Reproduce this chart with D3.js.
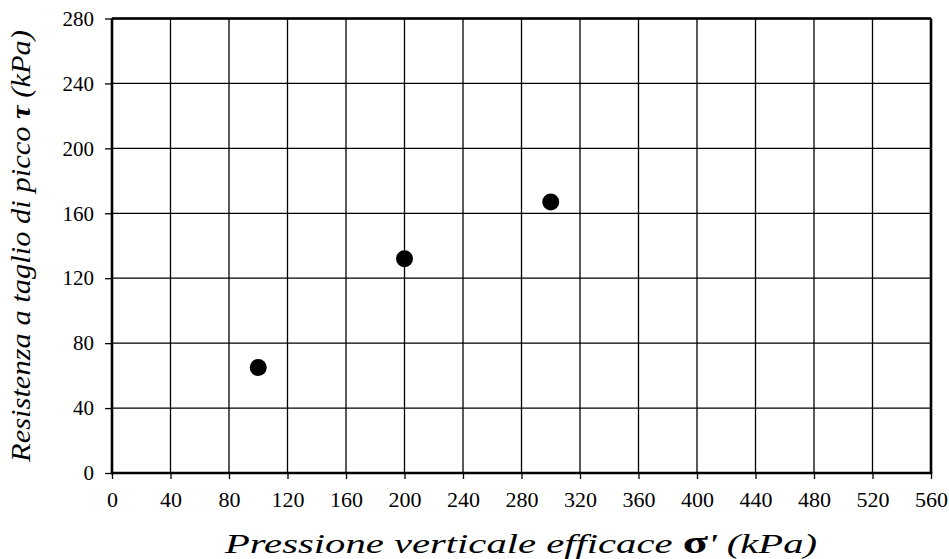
<!DOCTYPE html>
<html><head><meta charset="utf-8">
<script src="https://cdn.jsdelivr.net/npm/d3@7"></script>
<style>body{margin:0;background:#fff}svg{display:block}</style>
</head><body>
<svg id="c" width="949" height="559"></svg>
<script>
const xTicks = [0,40,80,120,160,200,240,280,320,360,400,440,480,520,560];
const yTicks = [0,40,80,120,160,200,240,280];
const sigma = [100,200,300];
const tau = [65,132,167];

const FONT = `"Liberation Serif"`;
const svg = d3.select("#c");
const L=112, R=931, T=18.5, B=473;
const x = d3.scaleLinear().domain([0,560]).range([L,R]);
const y = d3.scaleLinear().domain([0,280]).range([B,T]);

// grid
svg.append("g").selectAll("line").data(xTicks.slice(1)).join("line")
  .attr("x1",d=>x(d)).attr("x2",d=>x(d)).attr("y1",T).attr("y2",B)
  .attr("stroke","#000").attr("stroke-width",1.3);
svg.append("g").selectAll("line").data(yTicks.slice(1)).join("line")
  .attr("y1",d=>y(d)).attr("y2",d=>y(d)).attr("x1",L).attr("x2",R)
  .attr("stroke","#000").attr("stroke-width",1.3);

// axes
const xa = svg.append("g").attr("transform",`translate(0,${B})`)
  .call(d3.axisBottom(x).tickValues(xTicks).tickSize(6).tickPadding(12).tickSizeOuter(0));
const ya = svg.append("g").attr("transform",`translate(${L},0)`)
  .call(d3.axisLeft(y).tickValues(yTicks).tickSize(7).tickPadding(11).tickSizeOuter(0));
[xa,ya].forEach(a=>{
  a.attr("font-family",null).attr("font-size",null);
  a.select(".domain").attr("stroke","#000").attr("stroke-width",2.6);
  a.selectAll(".tick line").attr("stroke","#000").attr("stroke-width",1.3);
  a.selectAll(".tick text").style("font-family",FONT).attr("fill","#000");
});
xa.selectAll(".tick text").style("font-size","22px");
ya.selectAll(".tick text").style("font-size","21px");
xa.select(".domain").attr("d",`M${L-1.3},0H${R+1.3}`);
ya.select(".domain").attr("d",`M0,${B+1.3}V${T}`);
svg.append("line").attr("x1",R).attr("x2",R).attr("y1",T).attr("y2",B).attr("stroke","#000").attr("stroke-width",2.6);
svg.append("line").attr("x1",L).attr("x2",R).attr("y1",T).attr("y2",T).attr("stroke","#000").attr("stroke-width",2.6);

// points
svg.append("g").selectAll("circle").data(sigma.map((s,i)=>[s,tau[i]])).join("circle")
  .attr("cx",d=>x(d[0])).attr("cy",d=>y(d[1])).attr("r",8.5).attr("fill","#000");

// titles
const xt = svg.append("text").attr("x",521).attr("y",553).attr("text-anchor","middle")
  .attr("textLength",592).attr("lengthAdjust","spacingAndGlyphs")
  .style("font-family",FONT).style("font-size","28px").style("font-style","italic");
xt.append("tspan").text("Pressione verticale efficace ");
xt.append("tspan").style("font-weight","bold").style("font-size","32px").style("font-style","normal").text("σ");
xt.append("tspan").text("' (kPa)");

const yt = svg.append("text").attr("transform",`translate(30,246) rotate(-90)`).attr("text-anchor","middle")
  .attr("textLength",432).attr("lengthAdjust","spacingAndGlyphs")
  .style("font-family",FONT).style("font-size","27px").style("font-style","italic");
yt.append("tspan").text("Resistenza a taglio di picco ");
yt.append("tspan").style("font-weight","bold").text("τ");
yt.append("tspan").text("  (kPa)");
</script>
</body></html>
